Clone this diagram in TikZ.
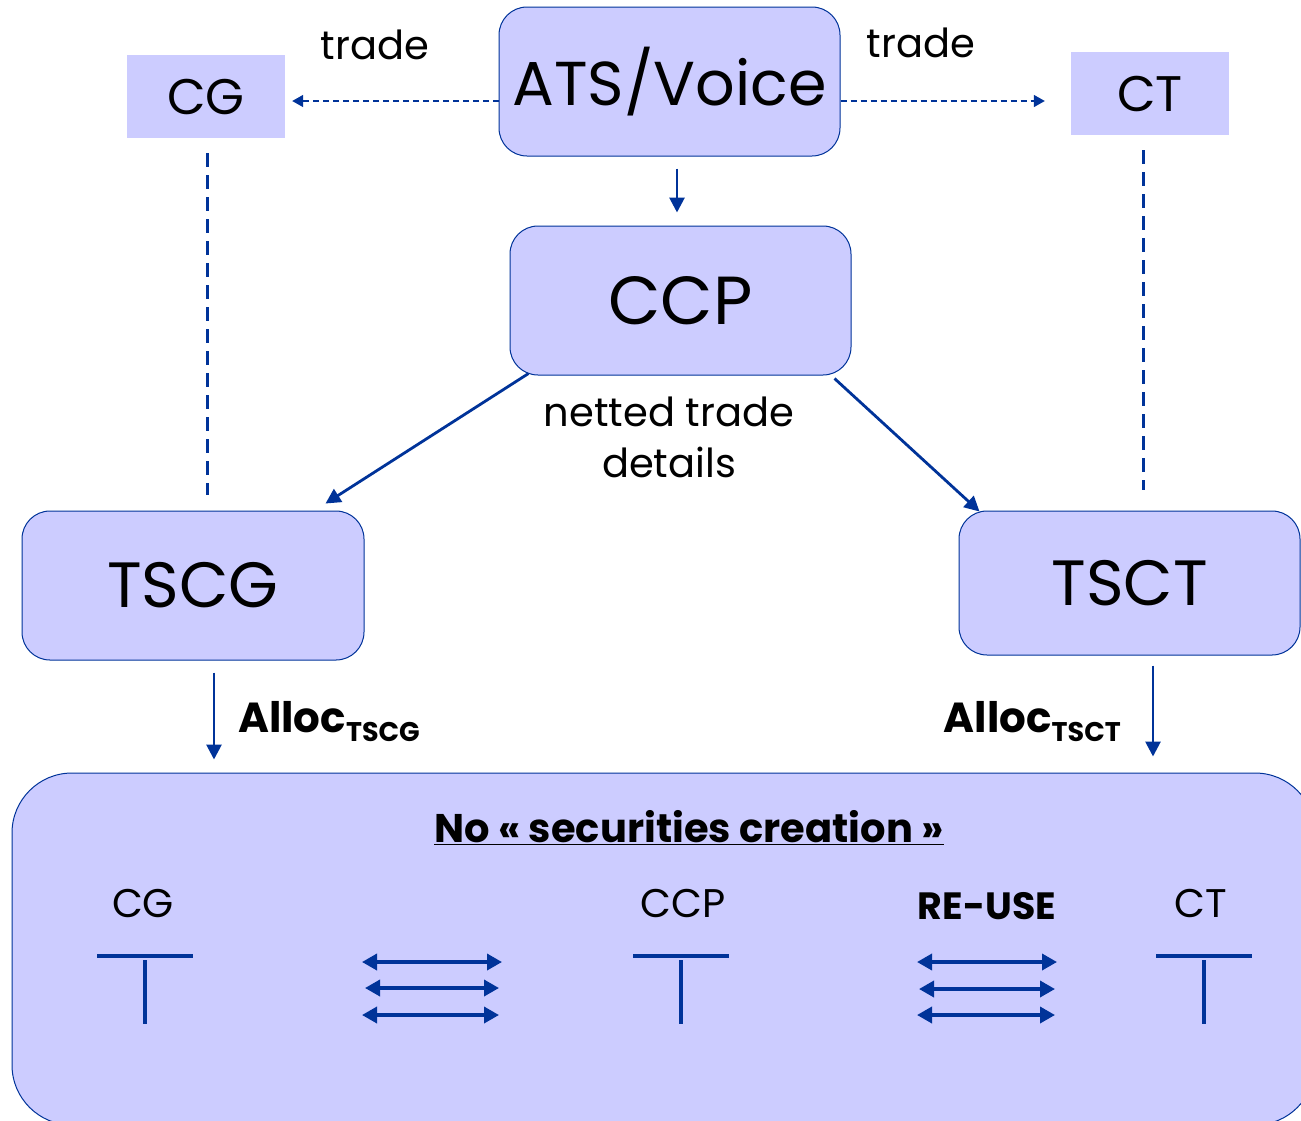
\documentclass[tikz,border=0pt]{standalone}
\usepackage{fontspec}
\setmainfont{Poppins}
\usetikzlibrary{arrows.meta}
\definecolor{boxfill}{HTML}{CCCCFF}
\definecolor{dblue}{HTML}{003399}
\newcommand{\fs}[1]{\fontsize{#1}{#1}\selectfont}
\begin{document}
\begin{tikzpicture}[x=1pt,y=-1pt,
  rbox/.style={draw=dblue, line width=1pt, fill=boxfill, rounded corners=28pt, inner sep=0pt},
  pbox/.style={fill=boxfill, inner sep=0pt},
  arr/.style={draw=dblue, line width=2.8pt, -{Triangle[width=15pt,length=15pt]}},
  darr/.style={draw=dblue, line width=1.5pt, dash pattern=on 6pt off 4pt, -{Triangle[width=12pt,length=11pt]}},
  vdash/.style={draw=dblue, line width=3pt, dash pattern=on 14pt off 8pt},
  dbl/.style={draw=dblue, line width=3.5pt, {Triangle[width=16pt,length=15pt]}-{Triangle[width=16pt,length=15pt]}},
  tbar/.style={draw=dblue, line width=3.5pt},
  lbl/.style={inner sep=0pt, text=black}
]
\clip (0,0) rectangle (1301,1120);
\fill[white] (0,0) rectangle (1301,1120);

% nodes
\node[rbox, minimum width=341pt, minimum height=149pt] (ats) at (669.5,81.5) {\fs{62}ATS/Voice};
\node[pbox, minimum width=158pt, minimum height=83pt] (cg) at (206,96.5) {\fs{50}CG};
\node[pbox, minimum width=158pt, minimum height=83pt] (ct) at (1150,93.5) {\fs{50}CT};
\node[rbox, minimum width=341pt, minimum height=149pt] (ccp) at (680.5,300.5) {\fs{68}CCP};
\node[rbox, minimum width=342pt, minimum height=149pt] (tscg) at (193,585.5) {\fs{64}TSCG};
\node[rbox, minimum width=341pt, minimum height=144pt] (tsct) at (1129.5,583) {\fs{64}TSCT};
\node[draw=dblue, line width=1pt, fill=boxfill, rounded corners=60pt, inner sep=0pt,
      minimum width=1303pt, minimum height=352pt] (bottom) at (663.5,949) {};

% labels
\node[lbl] (tradeL) at (375,45) {\fs{40}trade};
\node[lbl] (tradeR) at (921,43) {\fs{40}trade};
\node[lbl, align=center, font=\fontsize{40}{51}\selectfont] (netted) at (669,437) {netted trade\\details};
\node[lbl, anchor=west] (allocg) at (238,722) {\fs{42}\bfseries Alloc{\fs{27}\raisebox{-9pt}{TSCG}}};
\node[lbl, anchor=east] (alloct) at (1121,722) {\fs{42}\bfseries Alloc{\fs{27}\raisebox{-9pt}{TSCT}}};
\node[lbl] (title) at (689,828) {\fs{40}\bfseries\underline{No « securities creation »}};
\node[lbl] (cgb) at (143,903) {\fs{40}CG};
\node[lbl] (ccpb) at (683,903) {\fs{40}CCP};
\node[lbl] (ctb) at (1201,903) {\fs{40}CT};
\node[lbl] (reuse) at (987,906) {\fs{38}\bfseries RE-USE};

% connectors
\draw[darr, shorten >=7pt] ([yshift=-19.5pt]ats.west) -- ([yshift=-19.5pt]ats.west -| cg.east);
\draw[darr, shorten >=26pt] ([yshift=-19.5pt]ats.east) -- ([yshift=-19.5pt]ats.east -| ct.west);
\draw[arr, shorten <=12pt, shorten >=13pt] ([xshift=7.5pt]ats.south) -- ([xshift=7.5pt]ats.south |- ccp.north);
\draw[arr] ([xshift=19pt,yshift=2pt]ccp.south west) -- ([xshift=-39pt,yshift=7pt]tscg.north east);
\draw[arr] ([xshift=-17pt,yshift=-3pt]ccp.south east) -- ([xshift=21pt,yshift=-1pt]tsct.north west);
\draw[vdash, shorten <=15pt, shorten >=16pt] ([xshift=1pt]cg.south) -- ([xshift=1pt]cg.south |- tscg.north);
\draw[vdash, shorten <=15pt, shorten >=21pt] ([xshift=-7pt]ct.south) -- ([xshift=-7pt]ct.south |- tsct.north);
\draw[arr, shorten <=12pt, shorten >=13pt] ([xshift=21pt]tscg.south) -- ([xshift=21pt]tscg.south |- bottom.north);
\draw[arr, shorten <=10pt, shorten >=16pt] ([xshift=23.5pt]tsct.south) -- ([xshift=23.5pt]tsct.south |- bottom.north);

% T accounts
\draw[tbar] (97,956) -- (193,956);
\draw[tbar] (145,960) -- (145,1024);
\draw[tbar] (633,956) -- (729,956);
\draw[tbar] (681,960) -- (681,1024);
\draw[tbar] (1156,956) -- (1252,956);
\draw[tbar] (1204,960) -- (1204,1024);

% double arrows
\draw[dbl] (362,962) -- (502,962);
\draw[dbl] (365,988) -- (499,988);
\draw[dbl] (362,1015) -- (499,1015);
\draw[dbl] (917,962) -- (1057,962);
\draw[dbl] (919,989) -- (1055,989);
\draw[dbl] (917,1015) -- (1055,1015);
\end{tikzpicture}
\end{document}
